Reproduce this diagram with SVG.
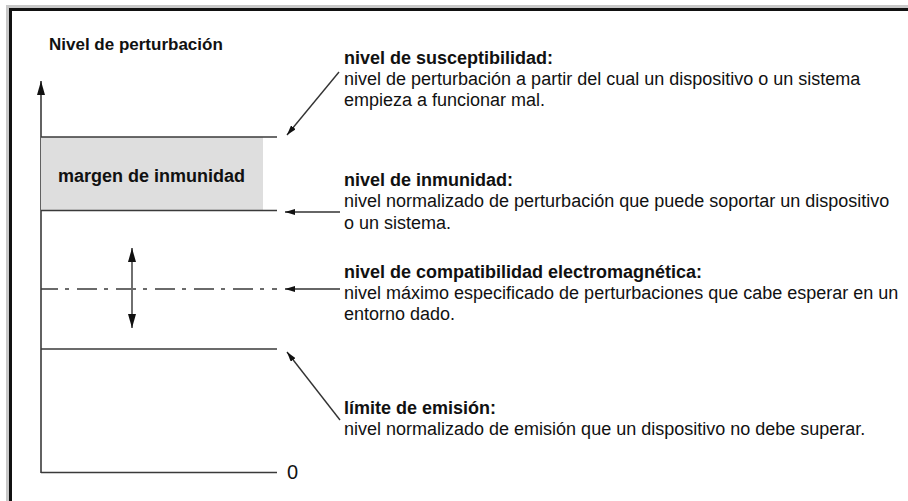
<svg xmlns="http://www.w3.org/2000/svg" width="908" height="501" viewBox="0 0 908 501">
<defs>
<style>
.t{font-family:"Liberation Sans",Arial,sans-serif;font-size:18px;fill:#111}
.b{font-weight:bold}
.ln{stroke:#3a3a3a;stroke-width:1.6;fill:none}
.ar{stroke:#333;stroke-width:1.4;fill:none}
</style>
<marker id="ah" viewBox="0 0 10 6" refX="10" refY="3" markerWidth="10" markerHeight="6" markerUnits="userSpaceOnUse" orient="auto">
<path d="M0,0 L10,3 L0,6 Z" fill="#111"/>
</marker>
<marker id="ahb" viewBox="0 0 14 8" refX="14" refY="4" markerWidth="14" markerHeight="8" markerUnits="userSpaceOnUse" orient="auto-start-reverse">
<path d="M0,0 L14,4 L0,8 Z" fill="#111"/>
</marker>
</defs>
<rect width="908" height="501" fill="#fff"/>
<g id="frame">
<path d="M8.5,501 V7.5 H908" stroke="#c8c8c8" stroke-width="5" fill="none"/>
<path d="M10.5,501 V9.5 H908" stroke="#111" stroke-width="3" fill="none"/>
</g>
<g id="axis">
<line class="ln" x1="41" y1="473" x2="41" y2="81" marker-end="url(#ahb)"/>
<text class="t b" x="49" y="50" style="font-size:17px">Nivel de perturbación</text>
</g>
<g id="margen">
<rect x="41" y="137" width="222" height="73" fill="#dedede"/>
<text class="t b" x="58" y="182">margen de inmunidad</text>
</g>
<g id="levels">
<line class="ln" x1="41" y1="137" x2="277" y2="137"/>
<line class="ln" x1="41" y1="210.5" x2="277" y2="210.5"/>
<line class="ln" x1="41" y1="289" x2="277" y2="289" stroke-dasharray="20 7 4 8" stroke-dashoffset="3"/>
<line class="ln" x1="41" y1="349" x2="277" y2="349"/>
<line class="ln" x1="41" y1="472.5" x2="277" y2="472.5"/>
<text class="t" x="287" y="479" style="font-size:20px">0</text>
</g>
<g id="connectors">
<line class="ar" x1="132" y1="288" x2="132" y2="248" marker-end="url(#ahb)"/>
<line class="ar" x1="132" y1="290" x2="132" y2="328" marker-end="url(#ahb)"/>
<line class="ar" x1="339" y1="72" x2="287" y2="135" marker-end="url(#ah)"/>
<line class="ar" x1="340" y1="212" x2="285" y2="212" marker-end="url(#ah)"/>
<line class="ar" x1="340" y1="289" x2="285" y2="289" marker-end="url(#ah)"/>
<line class="ar" x1="340" y1="420" x2="287" y2="352" marker-end="url(#ah)"/>
</g>
<g id="susceptibilidad">
<text class="t b" x="344" y="64">nivel de susceptibilidad:</text>
<text class="t" x="344" y="85">nivel de perturbación a partir del cual un dispositivo o un sistema</text>
<text class="t" x="344" y="106">empieza a funcionar mal.</text>
</g>
<g id="inmunidad">
<text class="t b" x="344" y="186">nivel de inmunidad:</text>
<text class="t" x="344" y="207">nivel normalizado de perturbación que puede soportar un dispositivo</text>
<text class="t" x="344" y="229">o un sistema.</text>
</g>
<g id="compatibilidad">
<text class="t b" x="344" y="278">nivel de compatibilidad electromagnética:</text>
<text class="t" x="344" y="299">nivel máximo especificado de perturbaciones que cabe esperar en un</text>
<text class="t" x="344" y="320">entorno dado.</text>
</g>
<g id="emision">
<text class="t b" x="344" y="414">límite de emisión:</text>
<text class="t" x="344" y="435">nivel normalizado de emisión que un dispositivo no debe superar.</text>
</g>
</svg>
